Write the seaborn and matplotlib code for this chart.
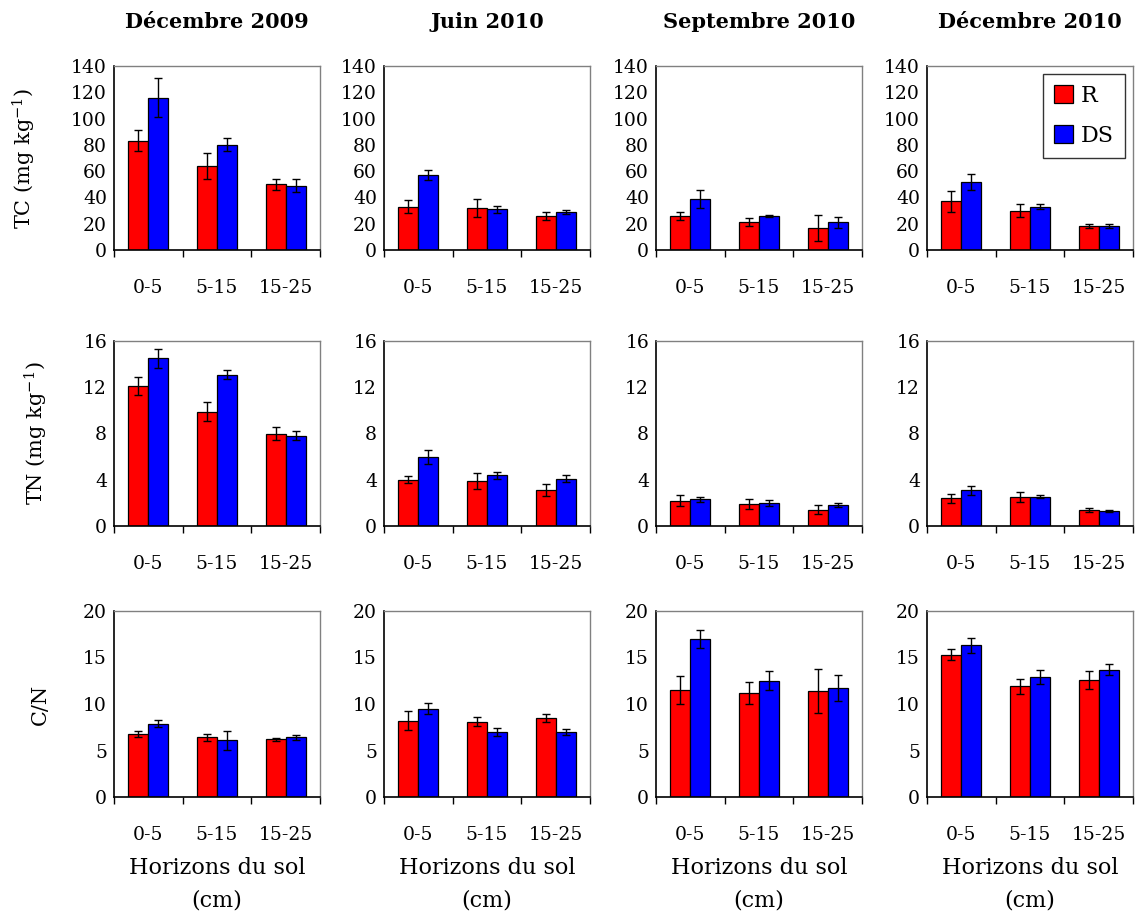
import numpy as np
import pandas as pd
import matplotlib
matplotlib.use("Agg")
import matplotlib.pyplot as plt
from matplotlib.patches import Patch
from matplotlib.ticker import FixedLocator
import seaborn as sns

# ---------------- data ----------------
horizons = ["0-5", "5-15", "15-25"]
treatments = ["R", "DS"]
dates = ["Décembre 2009", "Juin 2010", "Septembre 2010", "Décembre 2010"]
variables = ["TC", "TN", "CN"]
ylabels = ["TC (mg kg$^{\\mathregular{-1}}$)", "TN (mg kg$^{\\mathregular{-1}}$)", "C/N"]
yticks = [[0, 20, 40, 60, 80, 100, 120, 140], [0, 4, 8, 12, 16], [0, 5, 10, 15, 20]]

# TC (mg/kg)
tc_R = [[83, 64, 50], [33, 32, 26], [26, 21, 17], [37, 30, 18]]
tc_R_err = [[8, 10, 4], [5, 7, 3], [3, 3, 10], [8, 5, 1.5]]
tc_DS = [[116, 80, 49], [57, 31, 29], [39, 26, 21], [52, 33, 18]]
tc_DS_err = [[15, 5, 5], [4, 2.5, 1.5], [7, 1, 4], [6, 2, 1.5]]

# TN (mg/kg)
tn_R = [[12.1, 9.9, 8.0], [4.0, 3.9, 3.1], [2.2, 1.9, 1.4], [2.4, 2.5, 1.4]]
tn_R_err = [[0.8, 0.8, 0.6], [0.3, 0.7, 0.5], [0.5, 0.4, 0.4], [0.4, 0.4, 0.2]]
tn_DS = [[14.5, 13.1, 7.8], [6.0, 4.4, 4.1], [2.3, 2.0, 1.8], [3.1, 2.55, 1.3]]
tn_DS_err = [[0.8, 0.4, 0.4], [0.6, 0.3, 0.3], [0.2, 0.25, 0.15], [0.4, 0.1, 0.1]]

# C/N
cn_R = [[6.8, 6.4, 6.2], [8.2, 8.1, 8.5], [11.5, 11.2, 11.4], [15.3, 11.9, 12.6]]
cn_R_err = [[0.3, 0.4, 0.15], [1.0, 0.5, 0.45], [1.5, 1.2, 2.4], [0.6, 0.8, 1.0]]
cn_DS = [[7.9, 6.1, 6.4], [9.5, 7.0, 7.0], [17.0, 12.5, 11.7], [16.3, 12.9, 13.7]]
cn_DS_err = [[0.4, 1.0, 0.3], [0.6, 0.4, 0.3], [1.0, 1.0, 1.4], [0.8, 0.8, 0.6]]

values = {"TC": (tc_R, tc_DS), "TN": (tn_R, tn_DS), "CN": (cn_R, cn_DS)}
errors = {"TC": (tc_R_err, tc_DS_err), "TN": (tn_R_err, tn_DS_err), "CN": (cn_R_err, cn_DS_err)}

colors = {"R": "#FF0000", "DS": "#0000FF"}

# ---------------- style ----------------
sns.set_theme(style="white")
plt.rcParams["font.family"] = ["DejaVu Serif"]
plt.rcParams["mathtext.fontset"] = "dejavuserif"
plt.rcParams["text.color"] = "black"
plt.rcParams["axes.labelcolor"] = "black"
plt.rcParams["xtick.color"] = "black"
plt.rcParams["ytick.color"] = "black"

W, H = 1140, 915
fig = plt.figure(figsize=(W / 100, H / 100), dpi=100)

col_left = [114, 384, 656, 927]
col_width = 206
row_top = [66, 341, 611]
row_height = [184, 185, 186]

for r, var in enumerate(variables):
    for c, date in enumerate(dates):
        l = col_left[c]
        t = row_top[r]
        h = row_height[r]
        ax = fig.add_axes([l / W, 1 - (t + h) / H, col_width / W, h / H])
        rows = []
        for ti, tr in enumerate(treatments):
            for hi, hz in enumerate(horizons):
                rows.append({"horizon": hz, "treatment": tr,
                             "value": values[var][ti][c][hi],
                             "err": errors[var][ti][c][hi]})
        df = pd.DataFrame(rows)
        sns.barplot(data=df, x="horizon", y="value", hue="treatment",
                    order=horizons, hue_order=treatments, palette=colors,
                    saturation=1, width=0.58, edgecolor="black", linewidth=0.9,
                    errorbar=None, legend=False, ax=ax)
        # error bars at the bar positions computed by seaborn
        bars = [p for p in ax.patches]
        errs = list(df["err"])
        for p, e in zip(bars, errs):
            xc = p.get_x() + p.get_width() / 2
            ax.errorbar(xc, p.get_height(), yerr=e, fmt="none", ecolor="black",
                        elinewidth=1.0, capsize=3.2, capthick=1.0, zorder=5)

        yt = yticks[r]
        ax.set_ylim(yt[0], yt[-1])
        ax.set_yticks(yt)
        ax.set_xlim(-0.5, 2.5)
        ax.set_xlabel("")
        ax.set_ylabel("")
        ax.tick_params(axis="y", length=0, pad=5, labelsize=13.5, colors="black")
        ax.tick_params(axis="x", which="major", length=0, pad=21, labelsize=13.5,
                       colors="black")
        ax.xaxis.set_minor_locator(FixedLocator([-0.5, 0.5, 1.5, 2.5]))
        ax.tick_params(axis="x", which="minor", bottom=True, length=5,
                       width=1, direction="out", color="black")
        for s in ["top", "right"]:
            ax.spines[s].set_color("#808080")
            ax.spines[s].set_linewidth(1.0)
        for s in ["left", "bottom"]:
            ax.spines[s].set_color("black")
            ax.spines[s].set_linewidth(1.2)
        ax.grid(False)

        xc_col = (l + col_width / 2) / W
        if c == 0:
            ax.set_ylabel(ylabels[r], fontsize=15, labelpad=24, color="black")
        if r == 0:
            fig.text(xc_col, 1 - 22 / H, date, ha="center",
                     va="center", fontsize=15, fontweight="bold", color="black")
        if r == 2:
            fig.text(xc_col, 1 - 868 / H, "Horizons du sol",
                     ha="center", va="center", fontsize=16, color="black")
            fig.text(xc_col, 1 - 900 / H, "(cm)",
                     ha="center", va="center", fontsize=16, color="black")
        if r == 0 and c == 3:
            handles = [Patch(facecolor=colors[t], edgecolor="black", linewidth=0.9, label=t)
                       for t in treatments]
            leg = ax.legend(handles=handles, loc="upper right", fontsize=16,
                            handlelength=0.85, handleheight=0.85, handletextpad=0.35,
                            borderpad=0.5, labelspacing=0.8, fancybox=False,
                            frameon=True, borderaxespad=0.35)
            leg.get_frame().set_edgecolor("black")
            leg.get_frame().set_linewidth(1.0)
            for txt in leg.get_texts():
                txt.set_color("black")

fig.savefig("out.png", dpi=100)
